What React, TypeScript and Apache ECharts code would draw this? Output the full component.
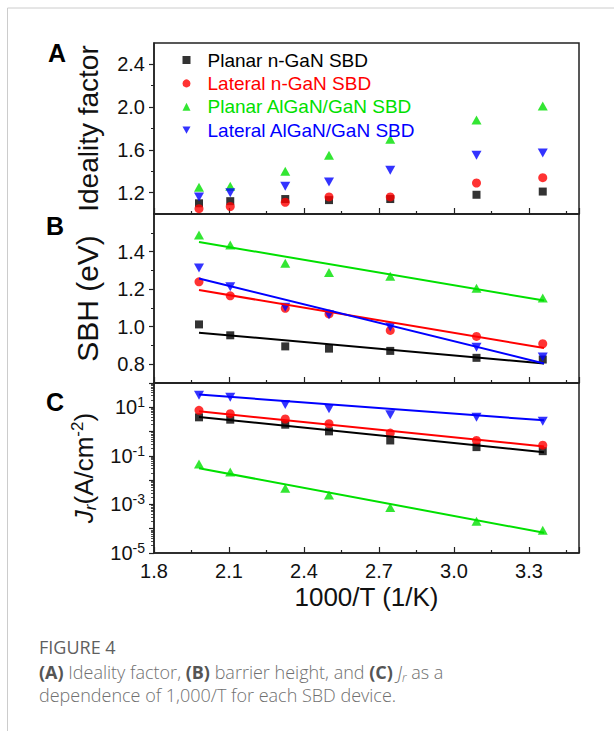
import React, { useEffect, useRef } from "react";
import * as echarts from "echarts";

// ---------- data ----------
const xValues = [1.98, 2.105, 2.325, 2.5, 2.745, 3.09, 3.355];
const seriesNames = [
  "Planar n-GaN SBD",
  "Lateral n-GaN SBD",
  "Planar AlGaN/GaN SBD",
  "Lateral AlGaN/GaN SBD",
];

// (A) ideality factor
const idealityPlanarN = [1.1, 1.12, 1.14, 1.13, 1.14, 1.18, 1.21];
const idealityLateralN = [1.05, 1.07, 1.11, 1.16, 1.16, 1.29, 1.34];
const idealityPlanarAl = [1.25, 1.26, 1.4, 1.55, 1.7, 1.88, 2.01];
const idealityLateralAl = [1.16, 1.2, 1.26, 1.3, 1.41, 1.55, 1.57];

// (B) SBH (eV)
const sbhPlanarN = [1.012, 0.954, 0.895, 0.883, 0.871, 0.834, 0.825];
const sbhLateralN = [1.239, 1.164, 1.098, 1.068, 0.98, 0.948, 0.909];
const sbhPlanarAl = [1.488, 1.435, 1.338, 1.289, 1.269, 1.204, 1.153];
const sbhLateralAl = [1.312, 1.213, 1.104, 1.063, 0.998, 0.891, 0.838];

// linear fits (end points)
const fitX = [1.98, 3.36];
const sbhFitPlanarN = [0.968, 0.804];
const sbhFitLateralN = [1.195, 0.886];
const sbhFitPlanarAl = [1.451, 1.139];
const sbhFitLateralAl = [1.257, 0.804];

// (C) Jr (A/cm^-2)
const jrPlanarN = [3.86, 3.09, 1.92, 1.02, 0.43, 0.229, 0.156];
const jrLateralN = [7.52, 5.47, 3.29, 2.11, 0.867, 0.43, 0.276];
const jrPlanarAl = [0.0467, 0.0218, 0.00459, 0.00243, 0.00075, 0.000204, 0.000087];
const jrLateralAl = [31.4, 25.9, 12.9, 8.8, 4.98, 3.86, 2.64];

const jrFitPlanarN = [3.98, 0.142];
const jrFitLateralN = [6.8, 0.243];
const jrFitPlanarAl = [0.031, 0.000068];
const jrFitLateralAl = [33.4, 2.9];

// axis ticks
const idealityTicks = [1.2, 1.6, 2.0, 2.4];
const idealityMinorTicks = [1.4, 1.8, 2.2];
const sbhTicks = [0.8, 1.0, 1.2, 1.4];
const sbhMinorTicks = [0.9, 1.1, 1.3, 1.5];
const jrDecades = [-5, -4, -3, -2, -1, 0, 1];
const jrMinorMultipliers = [2, 3, 4, 5, 6, 7, 8, 9];

// ---------- styling ----------
const colors = ["#000000", "#ff0000", "#00e000", "#0000ff"];
const symbols = ["rect", "circle", "triangle", "path://M0,0 L10,0 L5,9 Z"];
const legendIcons = ["rect", "circle", "triangle", "path://M0,0 L10,0 L5,9 Z"];
const symbolSizes: any[] = [8, 9, [10, 9], [10, 9]];
const FONT = "Liberation Sans, Arial, Helvetica, sans-serif";
const CAP_FONT = "Open Sans, Lato, sans-serif";
const AXIS_COLOR = "#222";

export default function App() {
  const ref = useRef<HTMLDivElement>(null);

  useEffect(() => {
    if (!ref.current) return;
    const chart = echarts.init(ref.current, undefined, { renderer: "svg" });

    const gridLeft = 154;
    const gridRight = 35;
    const grids = [
      { left: gridLeft, right: gridRight, top: 43, height: 171 },
      { left: gridLeft, right: gridRight, top: 214, height: 169 },
      { left: gridLeft, right: gridRight, top: 383, height: 170 },
    ].map((g) => ({
      ...g,
      show: true,
      borderColor: AXIS_COLOR,
      borderWidth: 1.5,
      backgroundColor: "transparent",
    }));

    const xAxisBase = (gridIndex: number, showLabel: boolean) => ({
      type: "value",
      gridIndex,
      position: "bottom",
      min: 1.8,
      max: 3.5,
      interval: 0.3,
      axisLine: { show: true, onZero: false, lineStyle: { color: AXIS_COLOR, width: 1.5 } },
      axisTick: { show: true, inside: true, length: 6, lineStyle: { color: AXIS_COLOR, width: 1.2 } },
      minorTick: { show: true, splitNumber: 2, length: 3, lineStyle: { color: AXIS_COLOR, width: 1.2 } },
      splitLine: { show: false },
      axisLabel: {
        show: showLabel,
        fontSize: 20,
        fontFamily: FONT,
        color: "#111",
        margin: 8,
        showMaxLabel: false,
        formatter: (v: number) => v.toFixed(1),
      },
      name: showLabel ? "1000/T (1/K)" : "",
      nameLocation: "middle",
      nameGap: 31,
      nameTextStyle: { fontSize: 26, fontFamily: FONT, color: "#111" },
    });

    const yLinear = (
      gridIndex: number,
      min: number,
      max: number,
      ticks: number[],
      name: string,
      nameSize: number
    ) => ({
      type: "value",
      gridIndex,
      position: "left",
      min,
      max,
      axisLine: { show: true, onZero: false, lineStyle: { color: AXIS_COLOR, width: 1.5 } },
      axisTick: { show: true, length: 5, customValues: ticks, lineStyle: { color: AXIS_COLOR, width: 1.2 } },
      splitLine: { show: false },
      axisLabel: {
        show: true,
        customValues: ticks,
        fontSize: 20,
        fontFamily: FONT,
        color: "#111",
        margin: 9,
        formatter: (v: number) => v.toFixed(1),
      },
      name,
      nameLocation: "middle",
      nameRotate: 90,
      nameGap: 52,
      nameTextStyle: { fontSize: nameSize, fontFamily: FONT, color: "#111" },
    });

    const yMinor = (gridIndex: number, min: number, max: number, ticks: number[]) => ({
      type: "value",
      gridIndex,
      position: "left",
      offset: 0,
      min,
      max,
      axisLine: { show: false, onZero: false },
      axisTick: { show: true, length: 3, customValues: ticks, lineStyle: { color: AXIS_COLOR, width: 1 } },
      axisLabel: { show: false },
      splitLine: { show: false },
    });

    const jrMinorValues: number[] = [];
    jrDecades.forEach((d) => jrMinorMultipliers.forEach((m) => jrMinorValues.push(Math.log10(m) + d)));

    const xAxes = [xAxisBase(0, false), xAxisBase(1, false), xAxisBase(2, true)];
    const yAxes: any[] = [
      yLinear(0, 1.0, 2.6, idealityTicks, "Ideality factor", 28),
      yMinor(0, 1.0, 2.6, idealityMinorTicks),
      yLinear(1, 0.7, 1.6, sbhTicks, "SBH (eV)", 30),
      yMinor(1, 0.7, 1.6, sbhMinorTicks),
      {
        type: "log",
        logBase: 10,
        gridIndex: 2,
        position: "left",
        min: 1e-5,
        max: 100,
        splitNumber: 7,
        axisLine: { show: true, onZero: false, lineStyle: { color: AXIS_COLOR, width: 1.5 } },
        axisTick: { show: true, length: 5, lineStyle: { color: AXIS_COLOR, width: 1.2 } },
        splitLine: { show: false },
        axisLabel: {
          show: true,
          fontSize: 20,
          fontFamily: FONT,
          color: "#111",
          margin: 9,
          formatter: (v: number) => {
            const e = Math.round(Math.log10(v));
            if (Math.abs(e % 2) !== 1) return "";
            return `10{sup|${e}}`;
          },
          rich: {
            sup: { fontSize: 14, fontFamily: FONT, color: "#111", verticalAlign: "top", lineHeight: 12 },
          },
          lineHeight: 24,
        },
        name: "{it|J}{sub|r}(A/cm{sup|-2})",
        nameLocation: "middle",
        nameRotate: 90,
        nameGap: 52,
        nameTextStyle: {
          fontSize: 26,
          fontFamily: FONT,
          color: "#111",
          lineHeight: 30,
          rich: {
            it: { fontSize: 26, fontStyle: "italic", fontFamily: FONT, color: "#111", lineHeight: 30 },
            sub: { fontSize: 17, fontStyle: "italic", fontFamily: FONT, color: "#111", verticalAlign: "bottom", lineHeight: 14 },
            sup: { fontSize: 17, fontFamily: FONT, color: "#111", verticalAlign: "top", lineHeight: 14 },
          },
        },
      },
      {
        type: "value",
        gridIndex: 2,
        position: "left",
        offset: 0,
        min: -5,
        max: 2,
        axisLine: { show: false, onZero: false },
        axisTick: { show: true, length: 3, customValues: jrMinorValues, lineStyle: { color: AXIS_COLOR, width: 0.8 } },
        axisLabel: { show: false },
        splitLine: { show: false },
      },
    ];

    const ideality = [idealityPlanarN, idealityLateralN, idealityPlanarAl, idealityLateralAl];
    const sbh = [sbhPlanarN, sbhLateralN, sbhPlanarAl, sbhLateralAl];
    const sbhFit = [sbhFitPlanarN, sbhFitLateralN, sbhFitPlanarAl, sbhFitLateralAl];
    const jr = [jrPlanarN, jrLateralN, jrPlanarAl, jrLateralAl];
    const jrFit = [jrFitPlanarN, jrFitLateralN, jrFitPlanarAl, jrFitLateralAl];

    const scatter = (k: number, xi: number, yi: number, ys: number[]) => ({
      type: "scatter",
      name: seriesNames[k],
      xAxisIndex: xi,
      yAxisIndex: yi,
      data: xValues.map((x, i) => [x, ys[i]]),
      symbol: symbols[k],
      symbolSize: symbolSizes[k],
      itemStyle: { color: colors[k] },
      z: 3,
    });
    const fitLine = (k: number, xi: number, yi: number, ys: number[]) => ({
      type: "line",
      name: "fit " + seriesNames[k],
      xAxisIndex: xi,
      yAxisIndex: yi,
      data: fitX.map((x, i) => [x, ys[i]]),
      showSymbol: false,
      symbol: "none",
      lineStyle: { color: colors[k], width: 2 },
      z: 4,
    });

    const series: any[] = [];
    for (let k = 0; k < 4; k++) series.push(scatter(k, 0, 0, ideality[k]));
    for (let k = 0; k < 4; k++) series.push(scatter(k, 1, 2, sbh[k]));
    for (let k = 0; k < 4; k++) series.push(fitLine(k, 1, 2, sbhFit[k]));
    for (let k = 0; k < 4; k++) series.push(scatter(k, 2, 4, jr[k]));
    for (let k = 0; k < 4; k++) series.push(fitLine(k, 2, 4, jrFit[k]));

    const panelLetter = (t: string, x: number, y: number) => ({
      type: "text",
      x,
      y,
      style: {
        text: t,
        fontSize: 25,
        fontWeight: "bold",
        fontFamily: FONT,
        fill: "#000",
        align: "center",
        verticalAlign: "middle",
      },
    });

    const option: any = {
      animation: false,
      backgroundColor: "#ffffff",
      grid: grids,
      xAxis: xAxes,
      yAxis: yAxes,
      legend: {
        orient: "vertical",
        left: 177.5,
        top: 45,
        itemWidth: 8,
        itemHeight: 8,
        itemGap: 3.4,
        selectedMode: false,
        data: seriesNames.map((n, k) => ({
          name: n,
          icon: legendIcons[k],
          textStyle: { color: colors[k] },
        })),
        textStyle: { fontSize: 19, fontFamily: FONT, lineHeight: 20, padding: [0, 0, 0, 12] },
      },
      series,
      graphic: [
        { type: "line", shape: { x1: 7.5, y1: 8, x2: 7.5, y2: 731 }, style: { stroke: "#cccccc", lineWidth: 1 } },
        { type: "line", shape: { x1: 7.5, y1: 8, x2: 614, y2: 8 }, style: { stroke: "#cccccc", lineWidth: 1 } },
        panelLetter("A", 57, 53),
        panelLetter("B", 55, 226),
        panelLetter("C", 55, 402),
        {
          type: "text",
          x: 39,
          y: 646.5,
          style: {
            text: "FIGURE 4",
            fontSize: 18,
            lineHeight: 21,
            fontFamily: CAP_FONT,
            fill: "#5f5f5f",
            verticalAlign: "middle",
          },
        },
        {
          type: "text",
          x: 39,
          y: 660,
          style: {
            text:
              "{b|(A)} Ideality factor, {b|(B)} barrier height, and {b|(C)} {i|J}{s|r} as a\ndependence of 1,000/T for each SBD device.",
            fontSize: 18,
            lineHeight: 23.4,
            fontFamily: CAP_FONT,
            fontWeight: 300,
            fill: "#707070",
            verticalAlign: "top",
            rich: {
              b: { fontSize: 18, lineHeight: 23.4, fontFamily: CAP_FONT, fontWeight: "bold", fill: "#555" },
              i: { fontSize: 18, lineHeight: 23.4, fontFamily: CAP_FONT, fontStyle: "italic", fontWeight: 300, fill: "#707070" },
              s: { fontSize: 12, lineHeight: 23.4, fontFamily: CAP_FONT, fontStyle: "italic", fontWeight: 300, fill: "#707070", verticalAlign: "bottom" },
            },
          },
        },
      ],
    };

    chart.setOption(option);
    return () => chart.dispose();
  }, []);

  return (
    <div
      ref={ref}
      style={{ position: "fixed", left: 0, top: 0, width: 614, height: 731, background: "#fff" }}
    />
  );
}
